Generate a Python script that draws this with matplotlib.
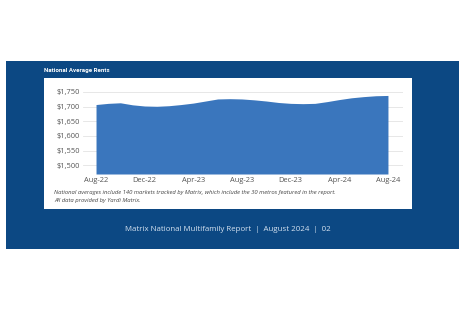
import matplotlib.pyplot as plt
from matplotlib.patches import Rectangle

# monthly national average rent, Aug-22 .. Aug-24
months = ["Aug-22", "Sep-22", "Oct-22", "Nov-22", "Dec-22", "Jan-23", "Feb-23",
          "Mar-23", "Apr-23", "May-23", "Jun-23", "Jul-23", "Aug-23", "Sep-23",
          "Oct-23", "Nov-23", "Dec-23", "Jan-24", "Feb-24", "Mar-24", "Apr-24",
          "May-24", "Jun-24", "Jul-24", "Aug-24"]
rents = [1707, 1711, 1713, 1706, 1702, 1701, 1703, 1707, 1712, 1719, 1726, 1727,
         1726, 1723, 1719, 1714, 1711, 1710, 1711, 1717, 1724, 1730, 1734, 1737, 1738]
y_ticks = [1500, 1550, 1600, 1650, 1700, 1750]
y_labels = ["$1,500", "$1,550", "$1,600", "$1,650", "$1,700", "$1,750"]

navy = "#0c4883"
fill_blue = "#3a76bd"

plt.rcParams["font.family"] = ["Open Sans", "DejaVu Sans"]

fig = plt.figure(figsize=(4.65, 3.1), dpi=100)
fig.patch.set_facecolor("white")

# dark blue page block and white chart panel
fig.patches.append(Rectangle((0.0129, 0.197), 0.974, 0.606, transform=fig.transFigure,
                             facecolor=navy, edgecolor="none", zorder=0))
fig.patches.append(Rectangle((0.0946, 0.326), 0.791, 0.422, transform=fig.transFigure,
                             facecolor="white", edgecolor="none", zorder=1))

fig.text(0.0946, 0.773, "National Average Rents", color="white", fontsize=4.4,
         fontweight="bold", va="center", ha="left", family="Roboto")

ax = fig.add_axes([0.1785, 0.4387, 0.688, 0.2742], zorder=3)
ax.set_facecolor("none")
x = list(range(len(months)))
ax.fill_between(x, 1470, rents, color=fill_blue, linewidth=0, zorder=2)
ax.set_xlim(-1.07, 25.23)
ax.set_ylim(1470, 1760)
ax.set_yticks(y_ticks)
ax.set_yticklabels(y_labels)
ax.set_xticks(x[::4])
ax.set_xticklabels(months[::4])
ax.grid(axis="y", color="#e3e3e3", linewidth=0.6, zorder=1)
ax.set_axisbelow(True)
for s in ax.spines.values():
    s.set_visible(False)
ax.tick_params(length=0, labelsize=5.4, colors="#555555", pad=2)
ax.tick_params(axis="x", pad=2.5)

fig.text(0.116, 0.378, "National averages include 140 markets tracked by Matrix, which include the 30 metros featured in the report.",
         fontsize=4.2, style="italic", color="#444444", va="center")
fig.text(0.116, 0.352, "All data provided by Yardi Matrix.",
         fontsize=4.2, style="italic", color="#444444", va="center")

fig.text(0.49, 0.261, "Matrix National Multifamily Report  |  August 2024  |  02",
         fontsize=5.7, color="#d5e2f0", ha="center", va="center")

fig.savefig("out.png", dpi=100)
